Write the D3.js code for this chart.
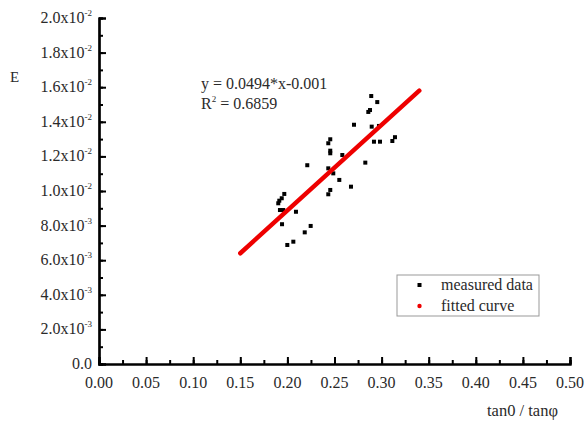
<!DOCTYPE html>
<html>
<head>
<meta charset="utf-8">
<script src="https://cdn.jsdelivr.net/npm/d3@7"></script>
<style>
  html, body { margin: 0; padding: 0; background: #fff; }
  svg { display: block; font-family: "Liberation Serif", "DejaVu Serif", serif; }
</style>
</head>
<body>
<svg id="chart" width="584" height="423"></svg>
<script>
// measured points
const measuredX = [0.289, 0.2954, 0.2877, 0.2859, 0.2707, 0.2895, 0.2972, 0.2919, 0.2983, 0.3142, 0.3114,
  0.2455, 0.2434, 0.2455, 0.2455, 0.2583, 0.2211, 0.2827, 0.2434, 0.2487, 0.2551, 0.2675, 0.2455, 0.2434,
  0.1967, 0.1940, 0.1914, 0.1903, 0.1921, 0.1956, 0.2091, 0.1943, 0.2247, 0.2184, 0.2063, 0.1999];
const measuredY = [0.01549, 0.01514, 0.01468, 0.01457, 0.01383, 0.01372, 0.01376, 0.01285, 0.01285, 0.01311, 0.01289,
  0.01299, 0.01276, 0.01233, 0.01218, 0.01208, 0.01149, 0.01164, 0.01131, 0.01102, 0.01064, 0.01025, 0.01006, 0.00981,
  0.00983, 0.00958, 0.00944, 0.00929, 0.00890, 0.00890, 0.00880, 0.00808, 0.00798, 0.00761, 0.00707, 0.00688];

// fitted line ends (y = 0.0494*x - 0.001)
const fitX = [0.15, 0.34];
const fitY = [0.0064, 0.0158];

const xTicks = [0, 0.05, 0.1, 0.15, 0.2, 0.25, 0.3, 0.35, 0.4, 0.45, 0.5];
const xTickLabels = ['0.00', '0.05', '0.10', '0.15', '0.20', '0.25', '0.30', '0.35', '0.40', '0.45', '0.50'];
const yTicks = [0, 0.002, 0.004, 0.006, 0.008, 0.01, 0.012, 0.014, 0.016, 0.018, 0.02];
const yTickMant = ['0.0', '2.0', '4.0', '6.0', '8.0', '1.0', '1.2', '1.4', '1.6', '1.8', '2.0'];
const yTickExp = ['', '-3', '-3', '-3', '-3', '-2', '-2', '-2', '-2', '-2', '-2'];

const legendLabels = ['measured data', 'fitted curve'];
const legendColors = ['#000', '#e00'];

const svg = d3.select('#chart');
const ink = '#2a2a2a';

const x = d3.scaleLinear().domain([0, 0.5]).range([99, 570]);
const y = d3.scaleLinear().domain([0, 0.02]).range([364, 18]);

// axes: ticks point inward, minor ticks between majors
const xMinor = d3.range(0, 0.5001, 0.025);
const yMinor = d3.range(0, 0.02001, 0.001);

const xAxisMinor = d3.axisBottom(x).tickValues(xMinor).tickSize(-4).tickFormat('');
const xAxis = d3.axisBottom(x).tickValues(xTicks).tickSize(-7).tickFormat('');
const yAxisMinor = d3.axisLeft(y).tickValues(yMinor).tickSize(-4).tickFormat('');
const yAxis = d3.axisLeft(y).tickValues(yTicks).tickSize(-7).tickFormat('');

[xAxisMinor, xAxis].forEach(a => {
  svg.append('g').attr('transform', 'translate(0,364)').call(a);
});
[yAxisMinor, yAxis].forEach(a => {
  svg.append('g').attr('transform', 'translate(99,0)').call(a);
});
svg.selectAll('.domain').attr('stroke', '#000').attr('stroke-width', 2.2);
svg.selectAll('.tick line').attr('stroke', '#000').attr('stroke-width', 2);

// x tick labels
svg.append('g').selectAll('text').data(xTicks).join('text')
  .attr('x', d => x(d))
  .attr('y', 388)
  .attr('text-anchor', 'middle')
  .attr('font-size', 16)
  .attr('fill', ink)
  .text((d, i) => xTickLabels[i]);

// y tick labels with superscript exponent
const yl = svg.append('g').selectAll('text').data(yTicks).join('text')
  .attr('x', 92)
  .attr('y', d => y(d) + 5)
  .attr('text-anchor', 'end')
  .attr('font-size', 16)
  .attr('fill', ink);
yl.append('tspan').text((d, i) => yTickMant[i] + (yTickExp[i] ? 'x10' : ''));
yl.filter((d, i) => yTickExp[i]).append('tspan')
  .attr('dy', -7)
  .attr('font-size', 9)
  .text(d => yTickExp[yTicks.indexOf(d)]);

// axis titles
svg.append('text').attr('x', 10).attr('y', 82).attr('font-size', 15).attr('fill', ink).text('E');
svg.append('text').attr('x', 487).attr('y', 416).attr('font-size', 16.5).attr('fill', ink).text('tan0 / tanφ');

// measured points
svg.append('g').selectAll('rect').data(measuredX).join('rect')
  .attr('x', d => x(d) - 2)
  .attr('y', (d, i) => y(measuredY[i]) - 2)
  .attr('width', 4)
  .attr('height', 4)
  .attr('fill', '#000');

// fitted curve
svg.append('line')
  .attr('x1', x(fitX[0])).attr('y1', y(fitY[0]))
  .attr('x2', x(fitX[1])).attr('y2', y(fitY[1]))
  .attr('stroke', '#e00')
  .attr('stroke-width', 4.5)
  .attr('stroke-linecap', 'round');

// equation
svg.append('text').attr('x', 201).attr('y', 89).attr('font-size', 16).attr('fill', ink)
  .text('y = 0.0494*x-0.001');
const r2 = svg.append('text').attr('x', 201).attr('y', 109).attr('font-size', 16).attr('fill', ink);
r2.append('tspan').text('R');
r2.append('tspan').attr('dy', -7).attr('font-size', 9).text('2');
r2.append('tspan').attr('dy', 7).text(' = 0.6859');

// legend
const lg = svg.append('g');
lg.append('rect').attr('x', 397).attr('y', 275).attr('width', 142).attr('height', 41)
  .attr('fill', '#fff').attr('stroke', '#999').attr('stroke-width', 1);
legendLabels.forEach((t, i) => {
  const ly = 285 + i * 21;
  if (i === 0) {
    lg.append('rect').attr('x', 417.5).attr('y', ly - 2).attr('width', 4).attr('height', 4).attr('fill', legendColors[i]);
  } else {
    lg.append('circle').attr('cx', 419.5).attr('cy', ly).attr('r', 2.2).attr('fill', legendColors[i]);
  }
  lg.append('text').attr('x', 441).attr('y', ly + 5).attr('font-size', 16).attr('fill', ink).text(t);
});
</script>
</body>
</html>
